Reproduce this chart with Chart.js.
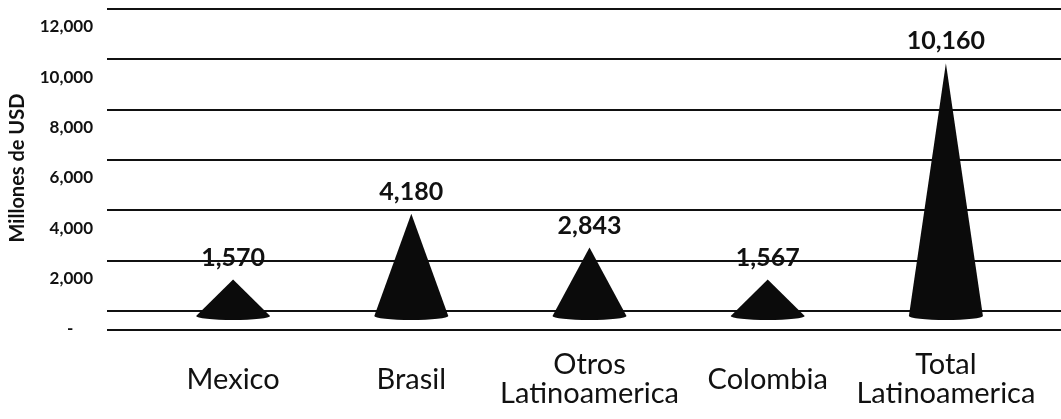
<!DOCTYPE html>
<html>
<head>
<meta charset="utf-8">
<script src="https://cdn.jsdelivr.net/npm/chart.js@4/dist/chart.umd.min.js"></script>
<style>
  html, body { margin: 0; padding: 0; background: #fff; }
  #wrap { width: 1061px; height: 419px; }
</style>
</head>
<body>
<div id="wrap"><canvas id="chart" width="1061" height="419"></canvas></div>
<script>
// --- Données ---
const categories = ['Mexico', 'Brasil', ['Otros', 'Latinoamerica'], 'Colombia', ['Total', 'Latinoamerica']];
const valores = [1570, 4180, 2843, 1567, 10160];
const yTicks = [0, 2000, 4000, 6000, 8000, 10000, 12000];

const FONT = 'Lato, "Open Sans", sans-serif';
const INK = '#111';

// les paddings calculés par l'axe décaleraient la zone du graphique
function noPadding(scale) {
  scale.paddingLeft = 0;
  scale.paddingRight = 0;
  scale.paddingTop = 0;
  scale.paddingBottom = 0;
}

// Dessine les cônes, les lignes de grille "mur du fond" et les étiquettes
const conePlugin = {
  id: 'cones',
  beforeDatasetsDraw(chart) {
    const { ctx, chartArea } = chart;
    const y = chart.scales.y;
    ctx.save();
    ctx.strokeStyle = INK;
    ctx.lineWidth = 2;
    const x0 = chartArea.left - 37;
    const x1 = chart.width;
    yTicks.forEach(v => {
      const py = Math.round(y.getPixelForValue(v)) - 8;
      ctx.beginPath();
      ctx.moveTo(x0, py);
      ctx.lineTo(x1, py);
      ctx.stroke();
    });
    // bord avant du plancher
    const floor = Math.round(y.getPixelForValue(0)) + 11;
    ctx.beginPath();
    ctx.moveTo(x0, floor);
    ctx.lineTo(x1, floor);
    ctx.stroke();
    ctx.restore();
  },
  afterDatasetsDraw(chart) {
    const { ctx } = chart;
    const meta = chart.getDatasetMeta(0);
    ctx.save();
    meta.data.forEach((bar, i) => {
      const half = bar.width / 2;
      const baseY = bar.base - 3;
      ctx.fillStyle = '#0b0b0b';
      ctx.beginPath();
      ctx.moveTo(bar.x - half, baseY);
      ctx.lineTo(bar.x, bar.y);
      ctx.lineTo(bar.x + half, baseY);
      ctx.closePath();
      ctx.fill();
      ctx.beginPath();
      ctx.ellipse(bar.x, baseY, half, 4, 0, 0, Math.PI);
      ctx.fill();

      ctx.fillStyle = INK;
      ctx.font = 'bold 25px ' + FONT;
      ctx.textAlign = 'center';
      ctx.textBaseline = 'middle';
      ctx.fillText(valores[i].toLocaleString('en-US'), bar.x, bar.y - 22);
    });
    ctx.restore();
  }
};

new Chart(document.getElementById('chart'), {
  type: 'bar',
  data: {
    labels: categories,
    datasets: [{
      label: 'Millones de USD',
      data: valores,
      backgroundColor: 'rgba(0,0,0,0)',
      borderWidth: 0,
      barThickness: 74
    }]
  },
  options: {
    responsive: false,
    animation: false,
    layout: { padding: { top: 17, right: 26, left: 0, bottom: 0 } },
    plugins: {
      legend: { display: false },
      tooltip: { enabled: false }
    },
    scales: {
      x: {
        grid: { display: false, drawTicks: false },
        border: { display: false },
        ticks: {
          color: INK,
          padding: 46,
          maxRotation: 0,
          autoSkip: false,
          crossAlign: 'center',
          font: { family: FONT, size: 29, lineHeight: 1.0 }
        },
        afterFit(scale) {
          scale.height = 100;
          noPadding(scale);
        }
      },
      y: {
        min: 0,
        max: 12000,
        grid: { display: false, drawTicks: false },
        border: { display: false },
        afterBuildTicks(scale) { scale.ticks = yTicks.map(v => ({ value: v })); },
        ticks: {
          color: INK,
          padding: 51,
          labelOffset: 10,
          font: { family: FONT, size: 17, weight: 'bold' },
          callback: v => v === 0 ? '-\u2007\u2007' : v.toLocaleString('en-US')
        },
        title: {
          display: true,
          text: 'Millones de USD',
          color: INK,
          padding: { top: 6, bottom: 0 },
          font: { family: FONT, size: 20, weight: 'bold' }
        },
        afterFit(scale) {
          scale.width = 144;
          noPadding(scale);
        }
      }
    }
  },
  plugins: [conePlugin]
});
</script>
</body>
</html>
